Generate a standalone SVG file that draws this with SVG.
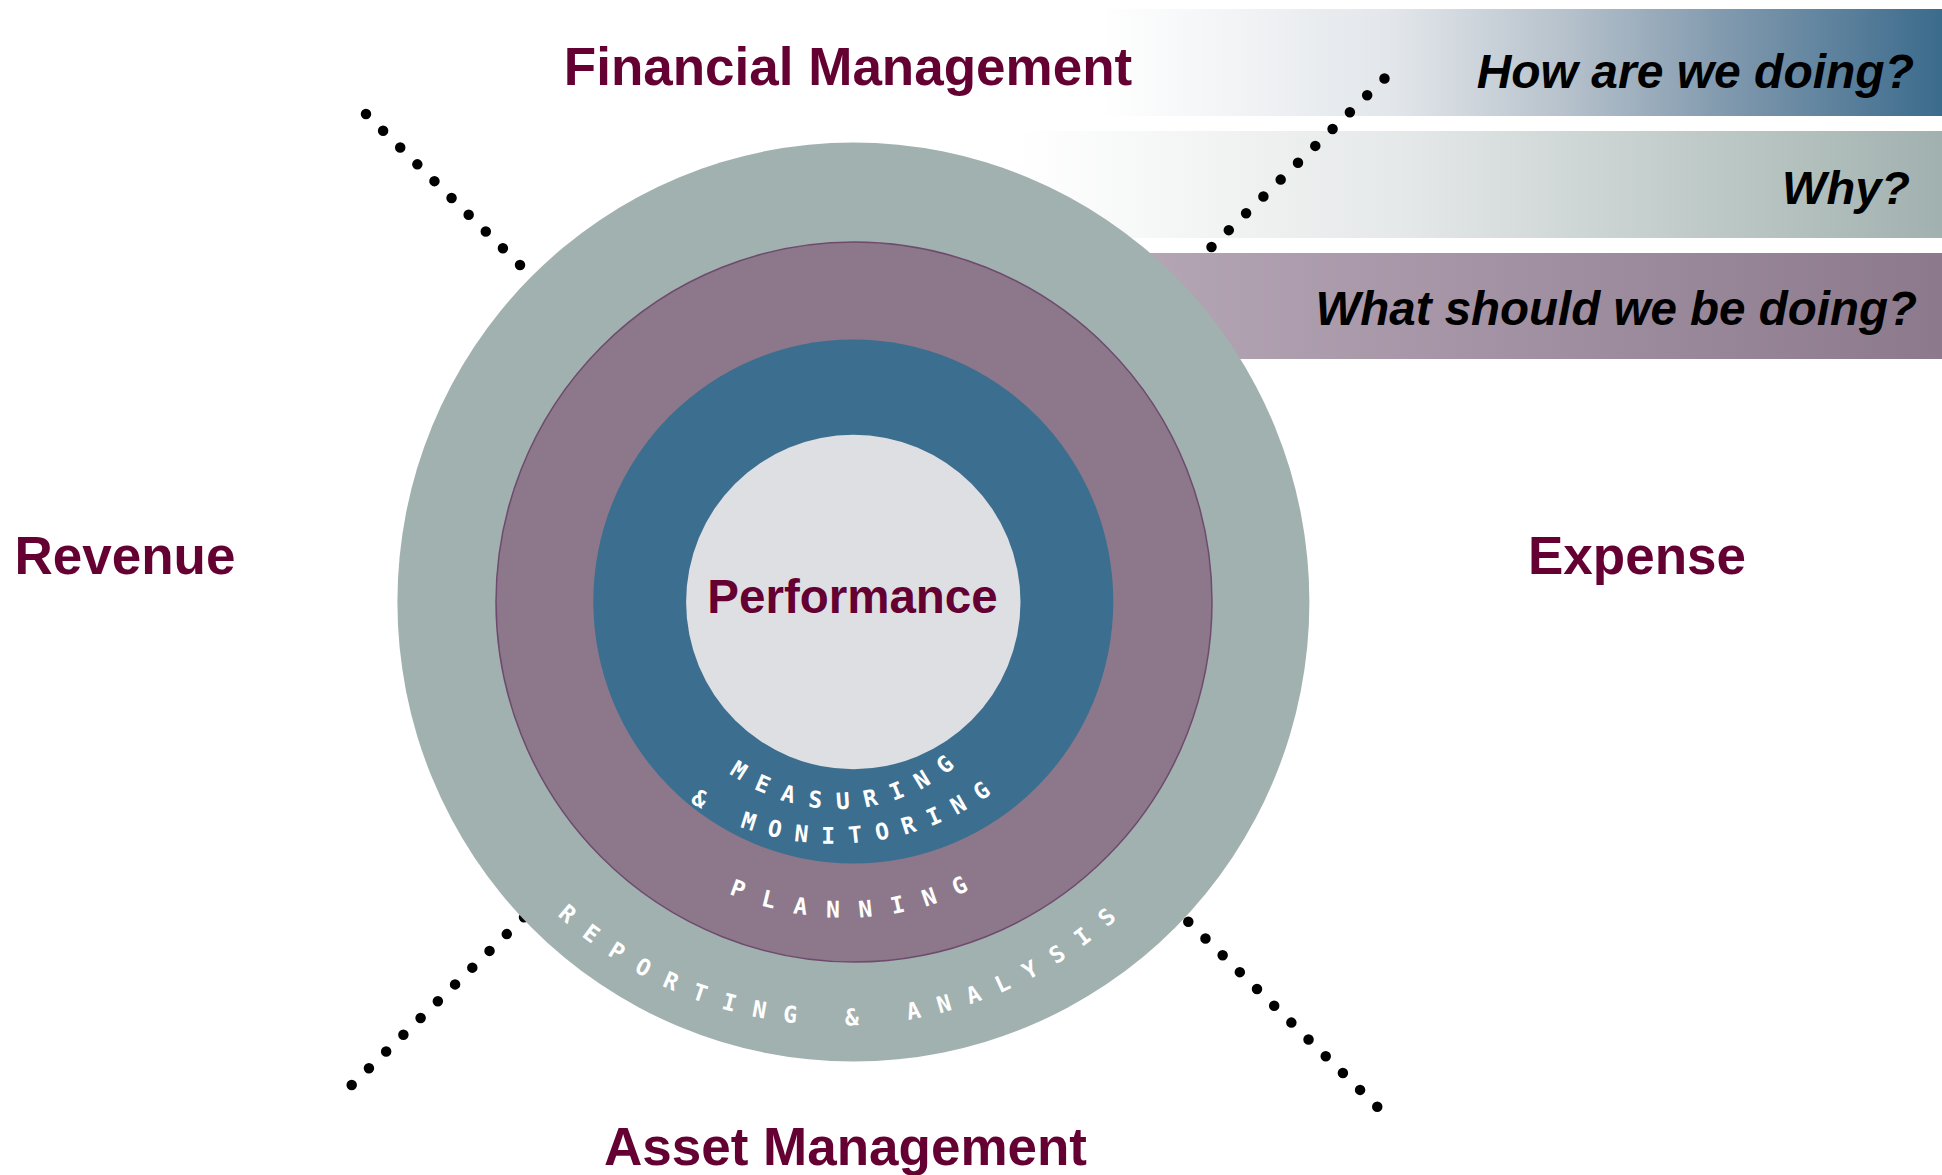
<svg xmlns="http://www.w3.org/2000/svg" width="1942" height="1175" viewBox="0 0 1942 1175">
<defs>
<linearGradient id="gHow" gradientUnits="userSpaceOnUse" x1="1100" y1="0" x2="1942" y2="0">
<stop offset="0" stop-color="#ffffff"/>
<stop offset="0.35" stop-color="#e2e6ea"/>
<stop offset="0.55" stop-color="#b7c2cc"/>
<stop offset="0.75" stop-color="#7f98ad"/>
<stop offset="1" stop-color="#3b6b8c"/>
</linearGradient>
<linearGradient id="gWhy" gradientUnits="userSpaceOnUse" x1="1017" y1="0" x2="1942" y2="0">
<stop offset="0" stop-color="#ffffff"/>
<stop offset="0.41" stop-color="#e6e9e9"/>
<stop offset="0.55" stop-color="#d5dcdb"/>
<stop offset="0.73" stop-color="#c0cbc9"/>
<stop offset="1" stop-color="#a1b1af"/>
</linearGradient>
<linearGradient id="gWhat" gradientUnits="userSpaceOnUse" x1="1150" y1="0" x2="1942" y2="0">
<stop offset="0" stop-color="#b4a5b5"/>
<stop offset="1" stop-color="#8c7a8c"/>
</linearGradient>
<path id="arcMeas" d="M 655 626 A 183 183 0 0 0 1021 626"/>
<path id="arcMon" d="M 562.7 572 A 271.8 271.8 0 0 0 1106.3 572"/>
<path id="arcPlan" d="M 552.7 625.2 A 292.5 292.5 0 0 0 1137.7 625.2"/>
<path id="arcRep" d="M 424 610.5 A 415.1 415.1 0 0 0 1254.2 610.5"/>
</defs>
<style>
.title{font-family:"Liberation Sans",Arial,sans-serif;font-weight:bold;font-size:53px;fill:#650032;text-anchor:middle}
.q{font-family:"Liberation Sans",Arial,sans-serif;font-weight:bold;font-style:italic;font-size:47px;fill:#000000;text-anchor:end}
.ring{font-family:"DejaVu Sans Mono","Liberation Mono",monospace;font-weight:bold;font-size:23px;fill:#ffffff}
.dots{stroke:#000000;stroke-width:10.5;stroke-linecap:round;fill:none}
</style>
<rect width="1942" height="1175" fill="#ffffff"/>

<g id="banners">
<g id="banner-how"><rect x="1100" y="9" width="842" height="107" fill="url(#gHow)"/></g>
<g id="banner-why"><rect x="1017" y="131" width="925" height="107" fill="url(#gWhy)"/></g>
<g id="banner-what"><rect x="1100" y="253" width="842" height="106" fill="url(#gWhat)"/></g>
</g>

<g id="connectors">
<line class="dots" x1="366" y1="114" x2="522.1" y2="267.1" stroke-dasharray="0 23.97"/>
<line class="dots" x1="1211.5" y1="247" x2="1386.6" y2="76.4" stroke-dasharray="0 24.15"/>
<line class="dots" x1="351.7" y1="1085" x2="526.2" y2="915.2" stroke-dasharray="0 24.04"/>
<line class="dots" x1="1188.3" y1="921.7" x2="1379.4" y2="1108.8" stroke-dasharray="0 24.04"/>
</g>

<g id="ring-reporting">
<ellipse cx="853.4" cy="602" rx="456" ry="459.5" fill="#a1b1af"/>
</g>
<g id="ring-planning">
<ellipse cx="854" cy="602" rx="358" ry="360" fill="#8c788a" stroke="#6e4b6e" stroke-width="1.5"/>
</g>
<g id="ring-measuring">
<ellipse cx="853.3" cy="601.5" rx="260" ry="262" fill="#3c6e8f"/>
</g>
<g id="node-performance">
<circle cx="853.3" cy="602" r="167.2" fill="#dedfe3"/>
<text class="title" x="852.5" y="613" style="font-size:47.5px">Performance</text>
</g>

<g id="ring-labels">
<text class="ring" letter-spacing="14.91"><textPath href="#arcMeas" startOffset="170.6">MEASURING</textPath></text>
<text class="ring" letter-spacing="13.99"><textPath href="#arcMon" startOffset="274.3">&amp; MONITORING</textPath></text>
<text class="ring" letter-spacing="19.57"><textPath href="#arcPlan" startOffset="339.6">PLANNING</textPath></text>
<text class="ring" letter-spacing="17.75"><textPath href="#arcRep" startOffset="341.9">REPORTING &amp; ANALYSIS</textPath></text>
</g>

<g id="label-financial"><text class="title" x="848" y="85">Financial Management</text></g>
<g id="label-asset"><text class="title" x="845.5" y="1165">Asset Management</text></g>
<g id="label-revenue"><text class="title" x="125" y="574">Revenue</text></g>
<g id="label-expense"><text class="title" x="1637" y="574">Expense</text></g>

<g id="questions">
<text class="q" x="1914" y="88" style="font-size:48px">How are we doing?</text>
<text class="q" x="1910" y="204">Why?</text>
<text class="q" x="1917" y="325" style="font-size:47.5px">What should we be doing?</text>
</g>
</svg>
